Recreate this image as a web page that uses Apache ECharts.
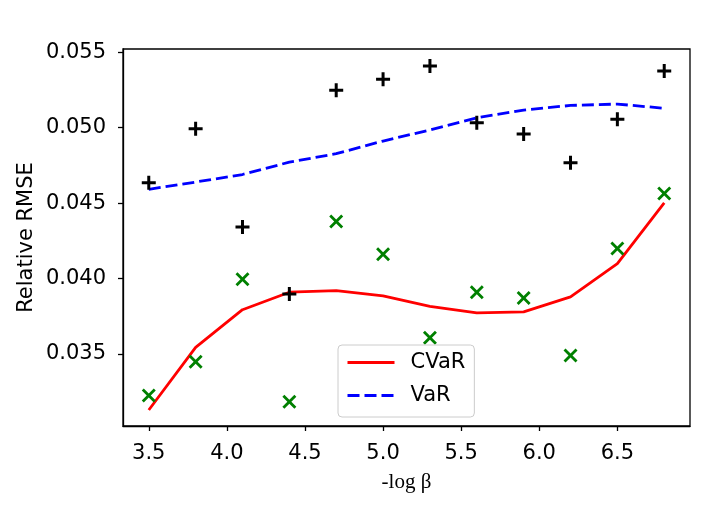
<!DOCTYPE html>
<html>
<head>
<meta charset="utf-8">
<script src="https://cdn.jsdelivr.net/npm/echarts@6/dist/echarts.min.js"></script>
<style>
  html, body { margin: 0; padding: 0; background: #fff; }
  #chart { width: 706px; height: 509px; }
</style>
</head>
<body>
<div id="chart"></div>
<script>
// -log beta values
var xs = [3.5, 3.8, 4.1, 4.4, 4.7, 5.0, 5.3, 5.6, 5.9, 6.2, 6.5, 6.8];
// scattered samples
var varSamples = [0.04635, 0.04993, 0.04342, 0.03898, 0.05248, 0.05321, 0.05409, 0.05033, 0.04958, 0.04768, 0.05056, 0.05376];
var cvarSamples = [0.03226, 0.03449, 0.03995, 0.03184, 0.04379, 0.04162, 0.03608, 0.03909, 0.03871, 0.03491, 0.04200, 0.04564];
// fitted curves
var cvarCurve = [0.03129, 0.03544, 0.03794, 0.03910, 0.03921, 0.03885, 0.03816, 0.03773, 0.03780, 0.03879, 0.04100, 0.04502];
var varCurve = [0.04592, 0.04640, 0.04690, 0.04772, 0.04828, 0.04912, 0.04985, 0.05066, 0.05117, 0.05148, 0.05157, 0.05129];
// ticks
var xTicks = [3.5, 4.0, 4.5, 5.0, 5.5, 6.0, 6.5];
var yTicks = [0.035, 0.040, 0.045, 0.050, 0.055];

function pairs(x, y) {
    var out = [];
    for (var i = 0; i < x.length; i++) {
        out.push([x[i], y[i]]);
    }
    return out;
}

var plusPath = 'path://M5.5,0H8.5V5.5H14V8.5H8.5V14H5.5V8.5H0V5.5H5.5Z';
var crossPath = 'path://M0,2L2,0L7,5L12,0L14,2L9,7L14,12L12,14L7,9L2,14L0,12L5,7Z';

var myChart = echarts.init(document.getElementById('chart'));
var font = 'DejaVu Sans';

var option = {
    animation: false,
    backgroundColor: '#fff',
    grid: {
        left: 123, right: 16, top: 49, bottom: 83,
        show: true,
        borderColor: '#000',
        borderWidth: 1.3
    },
    legend: {
        data: ['CVaR', 'VaR'],
        orient: 'vertical',
        left: 338,
        top: 345,
        itemWidth: 47,
        itemHeight: 20,
        itemGap: 12,
        padding: [7, 9, 11, 8],
        backgroundColor: 'rgba(255,255,255,0.8)',
        borderColor: '#cccccc',
        borderWidth: 1,
        borderRadius: 4,
        itemStyle: { opacity: 0 },
        lineStyle: { width: 3 },
        textStyle: { fontFamily: font, fontSize: 21, color: '#000', padding: [0, 0, 0, 11] }
    },
    xAxis: {
        type: 'value',
        min: 3.335,
        max: 6.965,
        name: '-log β',
        nameLocation: 'middle',
        nameGap: 46,
        nameMoveOverlap: false,
        nameTextStyle: { fontFamily: 'Liberation Serif', fontSize: 21, color: '#000' },
        splitLine: { show: false },
        axisLine: { show: true, lineStyle: { color: '#000', width: 1.3 } },
        axisTick: { show: true, length: 5, customValues: xTicks, lineStyle: { color: '#000', width: 1.3 } },
        axisLabel: {
            customValues: xTicks,
            margin: 17,
            fontFamily: font, fontSize: 21, color: '#000',
            formatter: function (v) { return v.toFixed(1); }
        }
    },
    yAxis: {
        type: 'value',
        min: 0.03023,
        max: 0.05522,
        name: 'Relative RMSE',
        nameLocation: 'middle',
        nameGap: 86,
        nameMoveOverlap: false,
        nameTextStyle: { fontFamily: font, fontSize: 21, color: '#000' },
        splitLine: { show: false },
        axisLine: { show: true, lineStyle: { color: '#000', width: 1.3 } },
        axisTick: { show: true, length: 5, customValues: yTicks, lineStyle: { color: '#000', width: 1.3 } },
        axisLabel: {
            customValues: yTicks,
            margin: 17,
            fontFamily: font, fontSize: 21, color: '#000',
            formatter: function (v) { return v.toFixed(3); }
        }
    },
    series: [
        {
            name: 'CVaR',
            type: 'line',
            data: pairs(xs, cvarCurve),
            symbol: 'none',
            color: '#ff0000',
            lineStyle: { color: '#ff0000', width: 2.8 },
            z: 2
        },
        {
            name: 'VaR',
            type: 'line',
            data: pairs(xs, varCurve),
            symbol: 'none',
            color: '#0000ff',
            lineStyle: { color: '#0000ff', width: 2.8, type: [12, 5] },
            z: 2
        },
        {
            name: 'VaR samples',
            type: 'scatter',
            data: pairs(xs, varSamples),
            symbol: plusPath,
            symbolSize: 14,
            itemStyle: { color: '#000', opacity: 1 },
            z: 3
        },
        {
            name: 'CVaR samples',
            type: 'scatter',
            data: pairs(xs, cvarSamples),
            symbol: crossPath,
            symbolSize: 14,
            itemStyle: { color: '#008000', opacity: 1 },
            z: 3
        }
    ]
};

myChart.setOption(option);
window.onresize = myChart.resize;
</script>
</body>
</html>
